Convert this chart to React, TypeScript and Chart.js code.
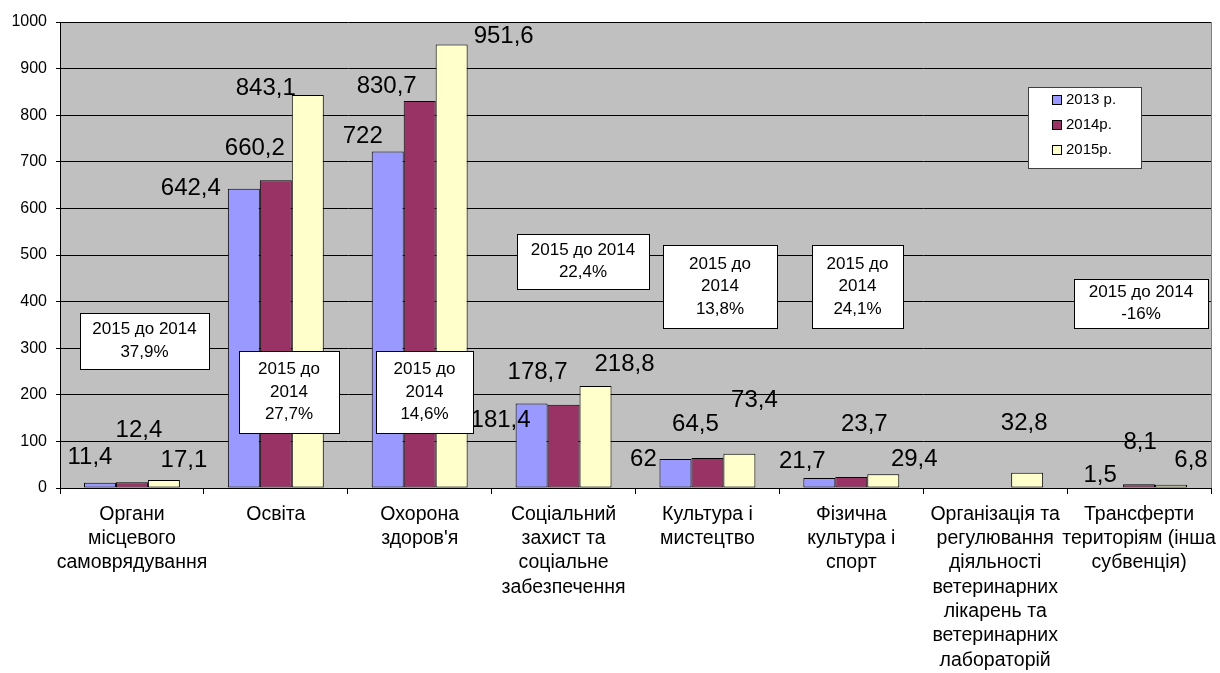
import React, { useEffect, useRef } from "react";
import { Chart, registerables } from "chart.js";

Chart.register(...registerables);

const categories: string[][] = [
  ["Органи", "місцевого", "самоврядування"],
  ["Освіта"],
  ["Охорона", "здоров'я"],
  ["Соціальний", "захист та", "соціальне", "забезпечення"],
  ["Культура і", "мистецтво"],
  ["Фізична", "культура і", "спорт"],
  ["Організація та", "регулювання", "діяльності", "ветеринарних", "лікарень та", "ветеринарних", "лабораторій"],
  ["Трансферти", "територіям (інша", "субвенція)"],
];

const seriesNames = ["2013 р.", "2014р.", "2015р."];
const values2013 = [11.4, 642.4, 722, 181.4, 62, 21.7, 0, 1.5];
const values2014 = [12.4, 660.2, 830.7, 178.7, 64.5, 23.7, 0, 8.1];
const values2015 = [17.1, 843.1, 951.6, 218.8, 73.4, 29.4, 32.8, 6.8];
const yTicks = [0, 100, 200, 300, 400, 500, 600, 700, 800, 900, 1000];

const notes: string[][] = [
  ["2015 до 2014", "37,9%"],
  ["2015 до", "2014", "27,7%"],
  ["2015 до", "2014", "14,6%"],
  ["2015 до 2014", "22,4%"],
  ["2015 до", "2014", "13,8%"],
  ["2015 до", "2014", "24,1%"],
  ["2015 до 2014", "-16%"],
];

// layout (pixels) for the note boxes: [left, top, right, bottom]
const noteBoxes: number[][] = [
  [80, 313, 209, 369],
  [239, 351, 339, 433],
  [376, 351, 473, 433],
  [517, 234, 649, 289],
  [663, 245, 777, 328],
  [812, 245, 903, 328],
  [1074, 279, 1208, 328],
];

// label offsets relative to the bar top centre, per series
const labelOffsets: number[][][] = [
  [[-10, -25], [-53, 0], [-25, -15], [-31, 17], [-32, 0], [-17, -17], [0, 0], [-7, -12]],
  [[7, -52], [-21, -32], [-33, -15], [-26, -32], [-12, -34], [13, -53], [0, 0], [1, -42]],
  [[20, -20], [-42, -7], [52, -8], [29, -22], [15, -53], [31, -15], [-3, -49], [20, -24]],
];

const colors = ["#9999FF", "#993366", "#FFFFCC"];
const FONT = "'Liberation Sans', Arial, sans-serif";

const fmt = (v: number) => String(v).replace(".", ",");

export default function App() {
  const ref = useRef<HTMLCanvasElement | null>(null);

  useEffect(() => {
    document.body.style.margin = "0";
    const canvas = ref.current;
    if (!canvas) return;

    const bgPlugin = {
      id: "bg",
      beforeDraw(chart: any) {
        const { ctx, chartArea } = chart;
        ctx.save();
        ctx.fillStyle = "#ffffff";
        ctx.fillRect(0, 0, chart.width, chart.height);
        ctx.fillStyle = "#C0C0C0";
        ctx.fillRect(chartArea.left, chartArea.top, chartArea.right - chartArea.left, chartArea.bottom - chartArea.top);
        ctx.restore();
      },
      afterDraw(chart: any) {
        const { ctx, chartArea } = chart;
        ctx.save();
        ctx.strokeStyle = "#808080";
        ctx.lineWidth = 1;
        ctx.beginPath();
        ctx.moveTo(Math.round(chartArea.right) + 0.5, chartArea.top);
        ctx.lineTo(Math.round(chartArea.right) + 0.5, chartArea.bottom);
        ctx.stroke();
        ctx.restore();
      },
    };

    const labelPlugin = {
      id: "barLabels",
      afterDatasetsDraw(chart: any) {
        const ctx = chart.ctx;
        ctx.save();
        ctx.font = `24px ${FONT}`;
        ctx.fillStyle = "#000";
        ctx.textAlign = "center";
        ctx.textBaseline = "middle";
        chart.data.datasets.forEach((ds: any, di: number) => {
          const meta = chart.getDatasetMeta(di);
          meta.data.forEach((el: any, i: number) => {
            const v = ds.data[i];
            if (!v) return;
            const off = labelOffsets[di][i];
            ctx.fillText(fmt(v), el.x + off[0], el.y + off[1]);
          });
        });
        ctx.restore();
      },
    };

    const overlayPlugin = {
      id: "overlay",
      afterDraw(chart: any) {
        const ctx = chart.ctx;
        ctx.save();
        // notes
        ctx.font = `17px ${FONT}`;
        ctx.textAlign = "center";
        ctx.textBaseline = "middle";
        notes.forEach((lines, k) => {
          const [l, t, r, b] = noteBoxes[k];
          ctx.fillStyle = "#fff";
          ctx.fillRect(l, t, r - l, b - t);
          ctx.strokeStyle = "#000";
          ctx.lineWidth = 1;
          ctx.strokeRect(l + 0.5, t + 0.5, r - l, b - t);
          ctx.fillStyle = "#000";
          const lh = 22.5;
          const cy = (t + b) / 2;
          const cx = (l + r) / 2;
          lines.forEach((s, j) => {
            ctx.fillText(s, cx, cy + (j - (lines.length - 1) / 2) * lh);
          });
        });
        // legend
        const lx = 1028, ly = 87, lw = 113, lhgt = 81;
        ctx.fillStyle = "#fff";
        ctx.fillRect(lx, ly, lw, lhgt);
        ctx.strokeStyle = "#404040";
        ctx.strokeRect(lx + 0.5, ly + 0.5, lw, lhgt);
        ctx.font = `15px ${FONT}`;
        ctx.textAlign = "left";
        chart.data.datasets.forEach((ds: any, i: number) => {
          const y = 100 + i * 25;
          ctx.fillStyle = ds.backgroundColor;
          ctx.fillRect(1052, y - 5, 10, 10);
          ctx.strokeStyle = "#000";
          ctx.strokeRect(1052.5, y - 4.5, 9, 9);
          ctx.fillStyle = "#000";
          ctx.fillText(ds.label, 1066, y);
        });
        ctx.restore();
      },
    };

    const chart = new Chart(canvas, {
      type: "bar",
      data: {
        labels: categories,
        datasets: [values2013, values2014, values2015].map((d, i) => ({
          label: seriesNames[i],
          data: d,
          backgroundColor: colors[i],
          borderColor: "#000",
          borderWidth: 1,
          borderSkipped: false,
          categoryPercentage: 2 / 3,
          barPercentage: 1,
        })),
      },
      options: {
        responsive: false,
        animation: false,
        devicePixelRatio: 1,
        layout: { padding: { top: 22, right: 9, left: 0, bottom: 0 } },
        plugins: { legend: { display: false }, tooltip: { enabled: false } },
        scales: {
          x: {
            grid: { offset: true, drawOnChartArea: false, drawTicks: true, tickLength: 6, color: "#000" },
            border: { color: "#000" },
            ticks: {
              color: "#000",
              font: { family: FONT, size: 19.5, lineHeight: 1.25 },
              padding: 8,
              maxRotation: 0,
              autoSkip: false,
            },
            afterFit(scale: any) {
              scale.height = 185;
              scale.paddingLeft = 0;
              scale.paddingRight = 0;
            },
          },
          y: {
            min: 0,
            max: 1000,
            afterBuildTicks(scale: any) {
              scale.ticks = yTicks.map((v) => ({ value: v }));
            },
            grid: { color: "#000", tickLength: 4 },
            border: { color: "#000" },
            ticks: {
              color: "#000",
              font: { family: FONT, size: 16 },
              padding: 9,
              callback: (v: any) => String(v),
            },
            afterFit(scale: any) {
              scale.width = 60;
            },
          },
        },
      },
      plugins: [bgPlugin, labelPlugin, overlayPlugin],
    });
    return () => chart.destroy();
  }, []);

  return <canvas ref={ref} width={1220} height={673} style={{ display: "block" }} />;
}
